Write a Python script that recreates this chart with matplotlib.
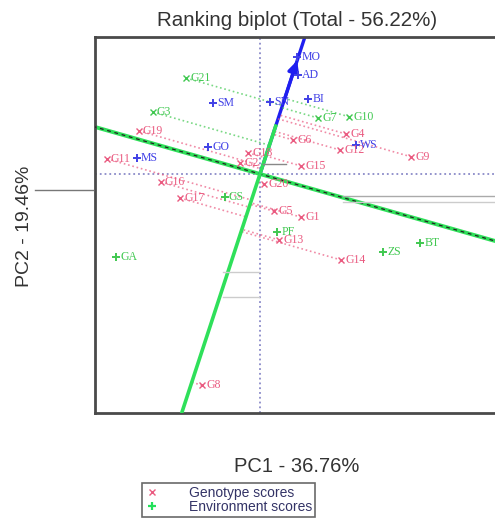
import matplotlib
matplotlib.use("Agg")
import matplotlib.pyplot as plt
from matplotlib.lines import Line2D
import numpy as np

plt.rcParams["font.family"] = ["Liberation Sans", "DejaVu Sans"]

# Genotype scores on the first two principal components
geno_names = ["G1", "G2", "G3", "G4", "G5", "G6", "G7", "G8", "G9", "G10", "G11",
              "G12", "G13", "G14", "G15", "G16", "G17", "G18", "G19", "G20", "G21"]
geno_pc1 = [1.03, -0.50, -2.68, 2.15, 0.35, 0.83, 1.45, -1.45, 3.78, 2.23, -3.83,
            2.00, 0.48, 2.03, 1.03, -2.48, -2.00, -0.30, -3.03, 0.10, -1.85]
geno_pc2 = [-1.08, 0.28, 1.55, 1.00, -0.93, 0.85, 1.40, -5.28, 0.43, 1.43, 0.38,
            0.60, -1.65, -2.15, 0.20, -0.20, -0.60, 0.53, 1.08, -0.25, 2.40]
geno_green = ["G3", "G7", "G10", "G21"]

# Environment scores
env_names = ["MO", "AD", "BI", "SN", "SM", "WS", "GO", "MS", "GS", "PF", "ZS", "BT", "GA"]
env_pc1 = [0.93, 0.95, 1.20, 0.25, -1.18, 2.40, -1.30, -3.08, -0.88, 0.43, 3.08, 4.00, -3.60]
env_pc2 = [2.93, 2.48, 1.88, 1.80, 1.78, 0.73, 0.68, 0.40, -0.58, -1.45, -1.95, -1.73, -2.08]
env_blue = ["MO", "AD", "BI", "SN", "SM", "WS", "GO", "MS"]

# average environment coordinate and the ranking abscissa direction
aec = (0.95, 2.90)
abscissa_dir = (1.0, -0.285)

pc1_pct = 36.76
pc2_pct = 19.46

RED = "#ea5a80"
GREEN = "#40c850"
BLUE = "#4040e6"

fig = plt.figure(figsize=(4.95, 5.27), dpi=100)
ax = fig.add_axes([95 / 495, 114 / 527, 405 / 495, 376 / 527])
ax.set_xlim(-4.125, 6.0)
ax.set_ylim(-5.975, 3.425)
ax.set_xticks([])
ax.set_yticks([])
for sp in ax.spines.values():
    sp.set_linewidth(2)
    sp.set_color("#4a4a4a")

# origin guides
ax.axhline(0, color="#8a8ac8", ls=":", lw=1.3, zorder=1)
ax.axvline(0, color="#8a8ac8", ls=":", lw=1.3, zorder=1)

d = np.array(aec) / np.hypot(*aec)
u = np.array(abscissa_dir) / np.hypot(*abscissa_dir)

# ranking abscissa through the origin
t = np.array([-20, 20])
ax.plot(t * u[0], t * u[1], color="#2fe05a", lw=2.8, zorder=2)
ax.plot(t * u[0], t * u[1], color="#222222", lw=0.9, ls=(0, (3, 3)), zorder=3)

# AEC arrow and ordinate
ax.plot([0, 10 * d[0]], [0, 10 * d[1]], color="#1f1ff0", lw=2.4, zorder=2)
ax.annotate("", xy=aec, xytext=(0.6 * aec[0], 0.6 * aec[1]),
            arrowprops=dict(arrowstyle="-|>", color="#1f1ff0", lw=2.4,
                            mutation_scale=16), zorder=4)
ax.plot([-20 * d[0], 1.26 * d[0]], [-20 * d[1], 1.26 * d[1]],
        color="#2fe05a", lw=2.6, zorder=3)

# projections of genotypes onto the ordinate, parallel to the abscissa
A = np.column_stack([d, -u])
for name, x, y in zip(geno_names, geno_pc1, geno_pc2):
    s, _ = np.linalg.solve(A, [x, y])
    col = GREEN if name in geno_green else RED
    ax.plot([x, s * d[0]], [y, s * d[1]], color=col, ls=":", lw=1.2,
            alpha=0.7, zorder=2)

for name, x, y in zip(geno_names, geno_pc1, geno_pc2):
    col = GREEN if name in geno_green else RED
    ax.plot(x, y, marker="x", ls="none", color=col, ms=4, mew=1, zorder=5)
    ax.annotate(name, (x, y), xytext=(3, 0), textcoords="offset points",
                va="center", ha="left", fontsize=8.5, color=col,
                family="Liberation Serif", zorder=6)

for name, x, y in zip(env_names, env_pc1, env_pc2):
    col = BLUE if name in env_blue else GREEN
    ax.plot(x, y, marker="+", ls="none", color=col, ms=6, mew=1.4, zorder=5)
    ax.annotate(name, (x, y), xytext=(3, 0), textcoords="offset points",
                va="center", ha="left", fontsize=8.5, color=col,
                family="Liberation Serif", zorder=6)

ax.set_title(f"Ranking biplot (Total - {pc1_pct + pc2_pct:.2f}%)",
             fontsize=14.8, color="#333333", pad=8)
fig.text(297 / 495, 1 - 467 / 527, f"PC1 - {pc1_pct:.2f}%", ha="center", va="center",
         fontsize=14.5, color="#333333")
fig.text(25 / 495, 1 - 226 / 527, f"PC2 - {pc2_pct:.2f}%", ha="center", va="center",
         rotation=90, fontsize=14, color="#333333")

# stray rules around the panel
for x0, x1, yy, c in [(35, 93, 190, "#777777"), (343, 495, 196, "#aaaaaa"),
                      (343, 495, 202, "#cccccc"), (263, 286, 164, "#888888"),
                      (223, 259, 272, "#cccccc"), (223, 259, 297, "#cccccc")]:
    fig.add_artist(Line2D([x0 / 495, x1 / 495], [1 - yy / 527, 1 - yy / 527],
                          color=c, lw=1, zorder=1))

handles = [Line2D([], [], marker="x", ls="none", color=RED, ms=4, mew=1),
           Line2D([], [], marker="+", ls="none", color="#22e05a", ms=6, mew=1.6)]
leg = fig.legend(handles, ["Genotype scores", "Environment scores"],
                 loc="upper left", bbox_to_anchor=(142 / 495, 1 - 483 / 527),
                 fontsize=10, frameon=True, fancybox=False, handlelength=1,
                 handletextpad=2.2, labelspacing=0.0, borderpad=0.2,
                 borderaxespad=0)
leg.get_frame().set_edgecolor("#444444")
leg.get_frame().set_linewidth(1.2)
for txt in leg.get_texts():
    txt.set_color("#333366")

fig.savefig("out.png", dpi=100)
